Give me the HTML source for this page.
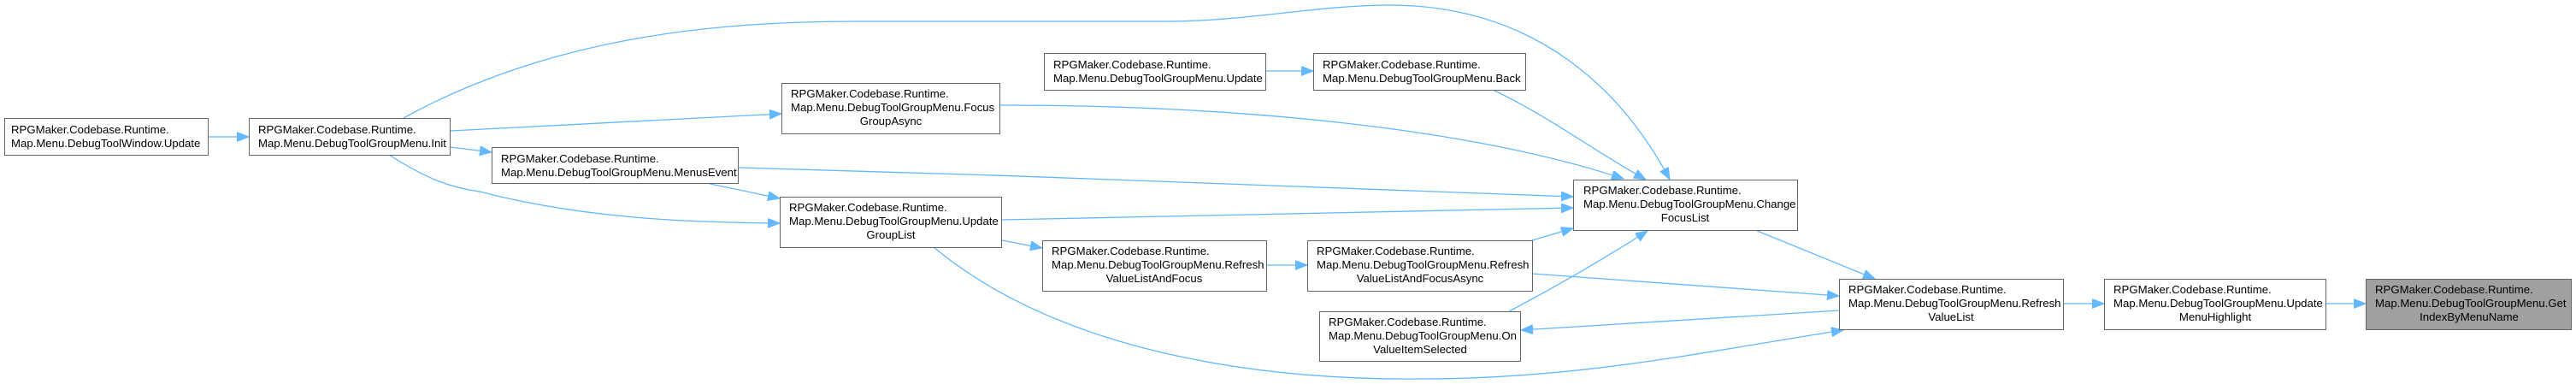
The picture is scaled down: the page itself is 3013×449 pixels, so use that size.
<!DOCTYPE html>
<html><head><meta charset="utf-8"><style>
html,body{margin:0;padding:0;background:#fff;}
svg{display:block;}
text{font-family:"Liberation Sans",Arial,sans-serif;font-size:13.2px;fill:#000;}
.e{fill:none;stroke:#63b8ff;stroke-width:1.3;marker-end:url(#a);}
.n{fill:#fff;stroke:#666;stroke-width:1;}
</style></head><body>
<svg width="3013" height="449" viewBox="0 0 3013 449" xmlns="http://www.w3.org/2000/svg">
<defs><marker id="a" markerUnits="userSpaceOnUse" markerWidth="16" markerHeight="12" refX="14" refY="5.5" orient="auto"><path d="M0,0 L14,5.5 L0,11 Z" fill="#63b8ff" stroke="#63b8ff"/></marker></defs>

<!-- edges -->
<path class="e" d="M244,160 L291,160"/>
<path class="e" d="M527,153 L914,133"/>
<path class="e" d="M527,172 L575,178"/>
<path class="e" d="M455,181 C500,210 530,220 561,224 C680,255 800,260 912,261"/>
<path class="e" d="M472,138 C650,40 850,25 1000,25 L1363,25 C1460,25 1540,6 1625,6 C1800,6 1900,110 1953,210"/>
<path class="e" d="M826,214 L912,232"/>
<path class="e" d="M864,196 C1200,205 1600,220 1840,230"/>
<path class="e" d="M1169,123 C1450,123 1720,150 1899,209"/>
<path class="e" d="M1480,83 L1536,83"/>
<path class="e" d="M1746,105 C1810,135 1870,180 1925,210"/>
<path class="e" d="M1172,257 L1840,243"/>
<path class="e" d="M1172,281 L1219,290"/>
<path class="e" d="M1092,289 C1250,420 1500,445 1663,443 C1850,443 2000,410 2156,386"/>
<path class="e" d="M1481,310 L1529,310"/>
<path class="e" d="M1792,281 L1840,267"/>
<path class="e" d="M1792,320 L2151,346"/>
<path class="e" d="M1765,364 C1830,330 1880,300 1927,270"/>
<path class="e" d="M2151,363 L1779,386"/>
<path class="e" d="M2053,269 L2193,326"/>
<path class="e" d="M2413,355 L2461,355"/>
<path class="e" d="M2720,355 L2767,355"/>

<!-- nodes -->
<rect class="n" x="5.5" y="138.5" width="238" height="43"/>
<text x="13" y="156">RPGMaker.Codebase.Runtime.</text><text x="13" y="172">Map.Menu.DebugToolWindow.Update</text>

<rect class="n" x="291.5" y="138.5" width="235" height="43"/>
<text x="302" y="156">RPGMaker.Codebase.Runtime.</text><text x="302" y="172">Map.Menu.DebugToolGroupMenu.Init</text>

<rect class="n" x="575.5" y="172.5" width="288" height="42"/>
<text x="586" y="190">RPGMaker.Codebase.Runtime.</text><text x="586" y="206">Map.Menu.DebugToolGroupMenu.MenusEvent</text>

<rect class="n" x="914.5" y="97.5" width="255" height="59"/>
<text x="925" y="114">RPGMaker.Codebase.Runtime.</text><text x="925" y="130">Map.Menu.DebugToolGroupMenu.Focus</text><text x="1042" y="146" text-anchor="middle">GroupAsync</text>

<rect class="n" x="912.5" y="230.5" width="259" height="59"/>
<text x="923" y="247">RPGMaker.Codebase.Runtime.</text><text x="923" y="263">Map.Menu.DebugToolGroupMenu.Update</text><text x="1042" y="279" text-anchor="middle">GroupList</text>

<rect class="n" x="1221.5" y="62.5" width="259" height="43"/>
<text x="1232" y="80">RPGMaker.Codebase.Runtime.</text><text x="1232" y="96">Map.Menu.DebugToolGroupMenu.Update</text>

<rect class="n" x="1536.5" y="62.5" width="248" height="43"/>
<text x="1547" y="80">RPGMaker.Codebase.Runtime.</text><text x="1547" y="96">Map.Menu.DebugToolGroupMenu.Back</text>

<rect class="n" x="1840.5" y="210.5" width="262" height="59"/>
<text x="1852" y="227">RPGMaker.Codebase.Runtime.</text><text x="1852" y="243">Map.Menu.DebugToolGroupMenu.Change</text><text x="1971" y="259" text-anchor="middle">FocusList</text>

<rect class="n" x="1219.5" y="281.5" width="262" height="59"/>
<text x="1230" y="298">RPGMaker.Codebase.Runtime.</text><text x="1230" y="314">Map.Menu.DebugToolGroupMenu.Refresh</text><text x="1350" y="330" text-anchor="middle">ValueListAndFocus</text>

<rect class="n" x="1529.5" y="281.5" width="263" height="59"/>
<text x="1540" y="298">RPGMaker.Codebase.Runtime.</text><text x="1540" y="314">Map.Menu.DebugToolGroupMenu.Refresh</text><text x="1661" y="330" text-anchor="middle">ValueListAndFocusAsync</text>

<rect class="n" x="1543.5" y="364.5" width="235" height="58"/>
<text x="1554" y="381">RPGMaker.Codebase.Runtime.</text><text x="1554" y="397">Map.Menu.DebugToolGroupMenu.On</text><text x="1661" y="413" text-anchor="middle">ValueItemSelected</text>

<rect class="n" x="2151.5" y="326.5" width="262" height="59"/>
<text x="2162" y="343">RPGMaker.Codebase.Runtime.</text><text x="2162" y="359">Map.Menu.DebugToolGroupMenu.Refresh</text><text x="2282" y="375" text-anchor="middle">ValueList</text>

<rect class="n" x="2461.5" y="326.5" width="259" height="59"/>
<text x="2472" y="343">RPGMaker.Codebase.Runtime.</text><text x="2472" y="359">Map.Menu.DebugToolGroupMenu.Update</text><text x="2591" y="375" text-anchor="middle">MenuHighlight</text>

<rect x="2767.5" y="326.5" width="240" height="59" fill="#a0a0a0" stroke="#666"/>
<text x="2778" y="343">RPGMaker.Codebase.Runtime.</text><text x="2778" y="359">Map.Menu.DebugToolGroupMenu.Get</text><text x="2888" y="375" text-anchor="middle">IndexByMenuName</text>
</svg>
</body></html>
